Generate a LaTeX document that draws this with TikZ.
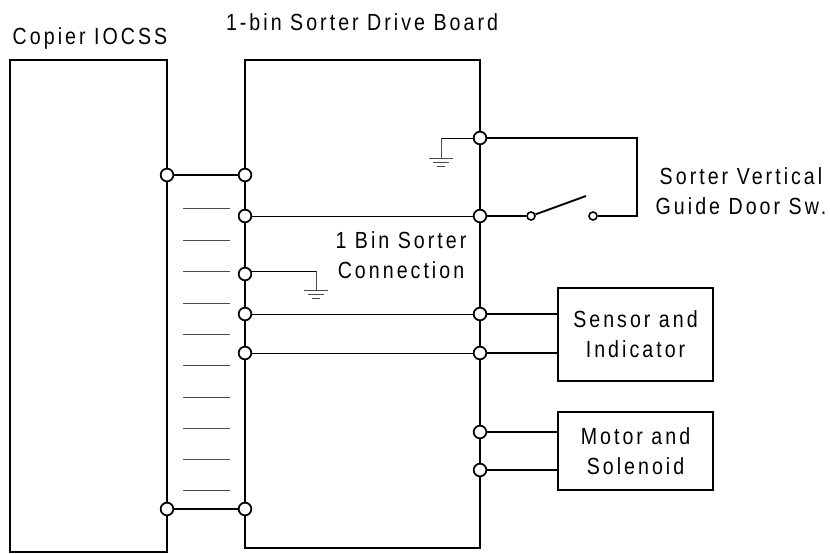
\documentclass[tikz,border=0pt]{standalone}
\usepackage{fontspec}
\setmainfont[LetterSpace=13,FakeStretch=0.84]{Liberation Sans}
\usepackage{tikz}

\begin{document}
\begin{tikzpicture}[x=0.75pt,y=-0.75pt]
\tikzstyle{every node}=[inner sep=0pt,font=\fontsize{17.5}{22.3}\selectfont,align=center];
\tikzstyle{term}=[draw,fill=white,shape=circle,line width=1.3pt,minimum size=9.5pt];
\tikzstyle{smallterm}=[draw,fill=white,shape=circle,line width=1.2pt,minimum size=6pt];
\tikzstyle{heavy}=[line width=1.4pt];
\tikzstyle{thin wire}=[line width=0.7pt];
\tikzstyle{stub}=[line width=0.6pt,black!70];
\tikzstyle{earth}=[line width=0.6pt,black!70];
\useasboundingbox (0,0) rectangle (830,553);

% boxes
\draw[heavy] (10,60) rectangle (167,552);
\draw[heavy] (245,60) rectangle (480,548);
\node[draw,heavy,minimum width=116.25pt,minimum height=69.75pt] (sensor) at (635.5,334.5) {Sensor and\\Indicator};
\node[draw,heavy,minimum width=116.25pt,minimum height=58.5pt] (motor) at (635.5,451) {Motor and\\Solenoid};

% labels
\node (copier) at (90,38) {Copier IOCSS};
\node (board) at (362,22) {1-bin Sorter Drive Board};
\node (conn) at (401,255) {1 Bin Sorter\\Connection};
\node (door) at (741,191) {Sorter Vertical\\Guide Door Sw.};

% terminals
\node[term] (l1) at (167,175) {};
\node[term] (l2) at (167,509) {};
\node[term] (m1) at (245,175) {};
\node[term] (m2) at (245,216) {};
\node[term] (m3) at (245,274) {};
\node[term] (m4) at (245,314) {};
\node[term] (m5) at (245,353) {};
\node[term] (m6) at (245,509) {};
\node[term] (r1) at (480,138) {};
\node[term] (r2) at (480,216) {};
\node[term] (r3) at (480,314) {};
\node[term] (r4) at (480,353) {};
\node[term] (r5) at (480,432) {};
\node[term] (r6) at (480,470) {};
\node[smallterm] (sw1) at (531,216) {};
\node[smallterm] (sw2) at (593,216) {};

% connections
\draw[heavy] (l1) -- (m1);
\draw[heavy] (l2) -- (m6);
\draw[thin wire] (m2) -- (r2);
\draw[thin wire] (m4) -- (r3);
\draw[thin wire] (m5) -- (r4);
\draw[heavy] (r2) -- (sw1);
\draw[heavy] (sw1) -- (586,196);
\draw[heavy] (sw2) -- (637,216) -- (637,138) -- (r1);
\draw[heavy] (r3) -- (r3-|sensor.west);
\draw[heavy] (r4) -- (r4-|sensor.west);
\draw[heavy] (r5) -- (r5-|motor.west);
\draw[heavy] (r6) -- (r6-|motor.west);

% ground symbols
\draw[thin wire] (r1) -- (441,138);
\draw[earth] (441,138) -- (441,158);
\draw[earth] (429,158) -- (453,158);
\draw[earth] (433,162) -- (449,162);
\draw[earth] (437,166) -- (445,166);
\draw[thin wire] (250,271) -- (316,271);
\draw[earth] (316,271) -- (316,290);
\draw[earth] (304,290) -- (328,290);
\draw[earth] (308,294) -- (324,294);
\draw[earth] (312,298) -- (320,298);

% short lines between the boards
\foreach \y in {208,240,271,303,334,365,397,428,459,490}
	\draw[stub] (183,\y) -- (230,\y);
\end{tikzpicture}
\end{document}
